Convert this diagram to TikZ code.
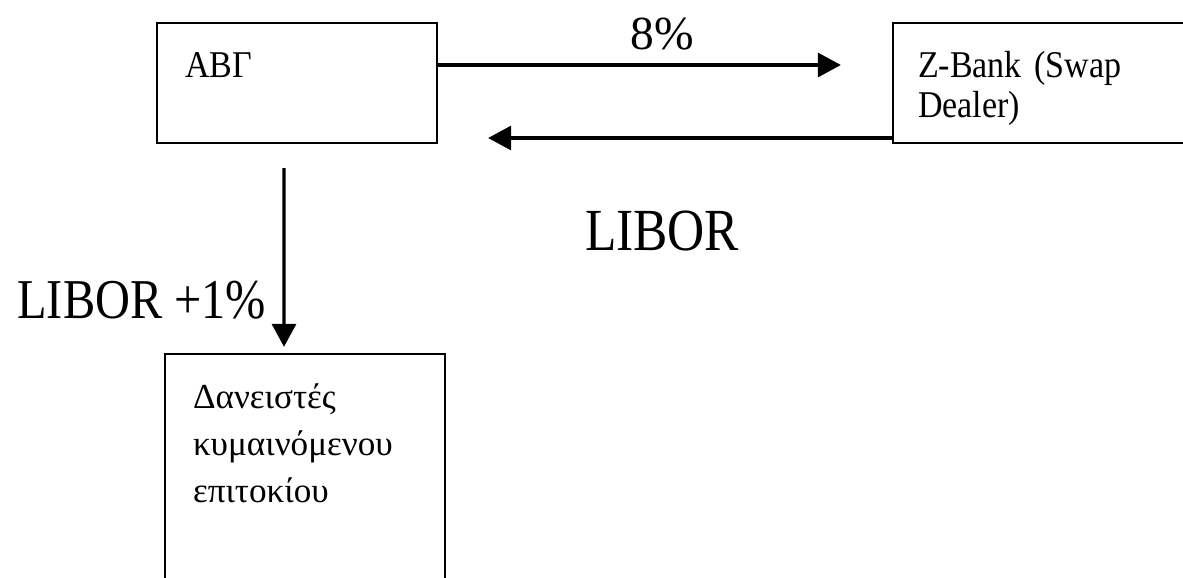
\documentclass[tikz,border=0pt]{standalone}
\usepackage{fontspec}
\setmainfont{Liberation Serif}
\newfontfamily\boxfont[FakeStretch=0.9]{Liberation Serif}
\newfontfamily\ratefont[FakeStretch=0.86]{Liberation Serif}
\usepackage{tikz}
\usetikzlibrary{arrows.meta}
\tikzstyle{block} = [rectangle, draw, line width=1.3pt, align=left,
    inner sep=0.56cm, text height=0.52cm, font=\boxfont\fontsize{21.5}{23.3}\selectfont]
\tikzstyle{rate} = [inner sep=0pt, font=\ratefont\fontsize{34}{37}\selectfont]
\tikzstyle{line} = [draw, line width=1.9pt, -{Triangle[length=0.46cm, width=0.48cm]}]

\begin{document}
\begin{tikzpicture}[node distance = 2cm, auto]
    \useasboundingbox (0,0) rectangle (23.66,-11.54);
    % Place nodes
    \node [block, text width=4.48cm, text depth=0.76cm] at (5.94,-1.66) (abg) {ΑΒΓ};
    \node [block, right of=abg, node distance=15.42cm, text width=6cm, inner xsep=0.5cm, text depth=0.76cm] (zbank) {Z-Bank (Swap\\Dealer)};
    \node [block, below of=abg, node distance=7.82cm, xshift=0.16cm, text width=4.48cm, text depth=3.16cm,
        font=\fontsize{20}{27}\selectfont] (lenders) {Δανειστές\\κυμαινόμενου\\επιτοκίου};

    % Draw edges
    \path [line] ([yshift=0.36cm]abg.east) -- node [pos=0.556, above=0.26cm, inner sep=0pt, font=\fontsize{27}{30}\selectfont] {8\%} ([xshift=-1.02cm, yshift=0.36cm]zbank.west);
    \path [line] ([yshift=-1.1cm]zbank.west) -- node [pos=0.569, below=1.42cm, rate] {LIBOR} ([xshift=1cm, yshift=-1.1cm]abg.east);
    \path [line] ([xshift=-0.26cm, yshift=-0.48cm]abg.south) -- node [pos=0.74, left=0.32cm, rate, font=\ratefont\fontsize{32}{35}\selectfont] {LIBOR +1\%} ([xshift=-0.42cm, yshift=0.12cm]lenders.north);
\end{tikzpicture}
\end{document}
